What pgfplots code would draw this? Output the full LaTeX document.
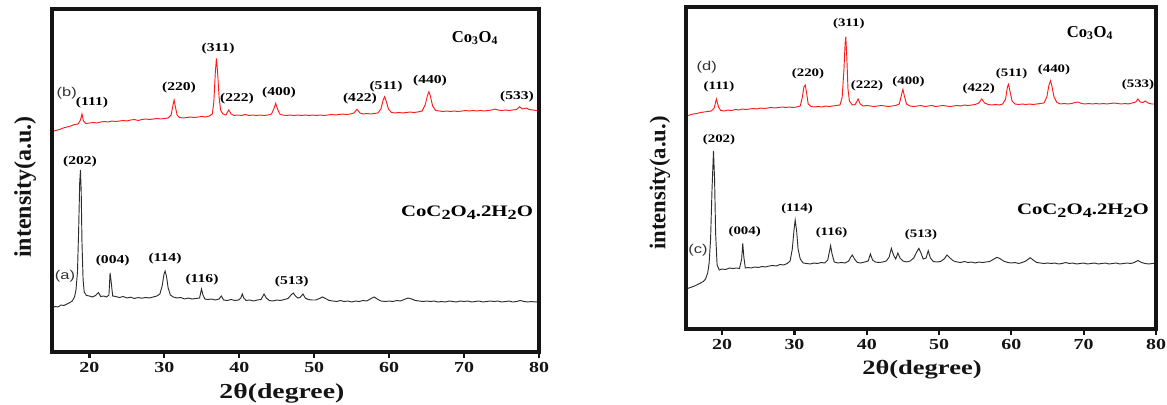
\documentclass[border=0pt]{standalone}
\usepackage{pgfplots}
\usepackage{pgfplotstable}
\pgfplotsset{compat=1.18}
\usepackage{fontspec}
\setmainfont{Liberation Serif}
\newfontfamily\wserif[FakeStretch=1.3]{Liberation Serif}
\newfontfamily\wsans[FakeStretch=1.3]{Liberation Sans}
\definecolor{xrdred}{RGB}{255,25,25}
\definecolor{xrdblack}{RGB}{45,45,45}
\definecolor{frame}{RGB}{20,20,20}
\newcommand{\pkL}[1]{{\wserif\bfseries\fontsize{9}{10}\selectfont #1}}
\newcommand{\pkR}[1]{{\wserif\bfseries\fontsize{8.6}{10}\selectfont #1}}
\newcommand{\lowsub}[1]{\raisebox{-0.45ex}{\fontsize{10.5}{10}\selectfont #1}}

% left panel, black (a) CoC2O4.2H2O
\pgfplotstableread{
x y
15.0 44
15.4 45.5
15.8 45
16.2 47
16.6 46.5
17.0 48
17.4 49.5
17.7 51
18.0 55
18.2 62
18.4 80
18.55 120
18.7 170
18.8 182
18.9 160
19.0 110
19.15 72
19.3 60
19.6 56.5
20.0 56
20.4 55
20.8 56.5
21.2 59.5
21.5 55.5
21.9 56
22.3 55
22.6 57
22.75 79
22.9 70
23.1 56
23.5 55.5
24.0 54.5
24.5 55.5
25.0 54
25.5 54.8
26.0 53.5
26.5 54.5
27.0 53.8
27.5 54.5
28.0 54
28.5 55
29.0 56
29.4 58
29.7 66
29.95 78
30.1 81
30.3 75
30.5 64
30.8 57
31.2 55
31.7 54
32.2 54.5
32.7 53
33.2 54
33.7 53
34.2 53.5
34.7 54
34.95 63
35.15 57
35.4 53
35.8 52.5
36.3 53
36.8 52
37.3 53
37.6 56
37.9 52
38.4 51.5
38.9 52.5
39.4 51.5
39.9 52
40.2 54
40.4 58
40.6 54
40.9 51.5
41.4 52
41.9 51
42.4 52
42.9 52.5
43.3 58
43.6 54
44.0 51.5
44.5 51
45.0 52
45.5 51.5
46.0 52.5
46.5 53.5
46.9 57
47.2 59
47.5 56
47.8 54
48.1 54.5
48.5 58
48.8 54
49.2 52.5
49.7 52
50.2 52
50.7 53.5
51.1 55
51.5 53.5
52.0 51.5
52.5 51
53.0 50.5
53.5 51.5
54.0 50.5
54.5 51
55.0 50
55.5 51
56.0 50.5
56.5 51.5
57.0 51
57.6 53.5
58.0 55
58.4 53
58.9 51
59.5 50.5
60.0 51
60.5 50.5
61.0 51.5
61.5 51
62.0 52.5
62.5 54
63.0 53
63.5 51.5
64.0 51
64.5 50.5
65.0 51
65.5 50.5
66.0 51
66.5 50
67.0 50.5
67.5 50
68.0 51
68.5 50.5
69.0 50
69.5 51
70.0 50.5
70.5 51
71.0 50
71.5 50.5
72.0 51
72.5 50
73.0 50.5
73.5 51
74.0 50.5
74.5 51
75.0 50
75.5 50.5
76.0 51
76.5 50
77.0 50.5
77.5 51.5
78.0 50.5
78.5 50
79.0 50.5
79.5 50
80.0 50.5
}\leftA

% left panel, red (b) Co3O4
\pgfplotstableread{
x y
15.0 220.3
15.5 221.5
16.0 222.5
16.5 224
17.0 225
17.5 226
18.0 227.5
18.5 228
18.8 232
19.0 238
19.2 231
19.5 228.5
20.0 229
20.5 229.5
21.0 229
21.5 230
22.0 230.5
22.5 230
23.0 231
23.5 230.5
24.0 231
24.5 231.5
25.0 231
25.5 232
26.0 232.5
26.5 231.5
27.0 232.5
27.5 233
28.0 232.5
28.5 233
29.0 233.5
29.5 233
30.0 233.5
30.5 234
30.9 237
31.1 245
31.3 252
31.5 244
31.7 237
32.0 234.5
32.5 234
33.0 234.5
33.5 235
34.0 234.5
34.5 235
35.0 235.5
35.5 235
36.0 236
36.4 238
36.6 250
36.8 280
36.95 293.7
37.1 280
37.3 255
37.5 242
37.8 238
38.2 237
38.6 242
38.9 238
39.3 236.5
39.8 237
40.3 236.5
40.8 237.5
41.3 236.5
41.8 237
42.3 236.5
42.8 237
43.3 236.5
43.8 237
44.3 238
44.6 243
44.85 248.7
45.1 243
45.4 238
45.8 237
46.3 236.5
46.8 237
47.3 236.5
47.8 237
48.3 236.5
48.8 237
49.3 236.5
49.8 237
50.3 236.5
50.8 237
51.3 236.5
51.8 237
52.3 237.5
52.8 237
53.3 237.5
53.8 238
54.3 237.5
54.8 238
55.3 239
55.7 242.7
56.1 239
56.5 238
57.0 238.5
57.5 238
58.0 238.5
58.5 239
58.9 243
59.2 252
59.4 255.3
59.6 251
59.9 243
60.3 239.5
60.8 239
61.3 239.5
61.8 239
62.3 239.5
62.8 240
63.3 239.5
63.8 240
64.4 241
64.8 247
65.1 256
65.3 260.3
65.5 256
65.8 246
66.2 241.5
66.7 241
67.2 240.5
67.7 241
68.2 240.5
68.7 241
69.2 240.5
69.7 241
70.2 241.5
70.7 241
71.2 241.5
71.7 241
72.2 241.5
72.7 241
73.2 241.5
73.7 242
74.1 243
74.5 242
75.0 241.5
75.5 242
76.0 241.5
76.5 242
77.0 242.5
77.4 245.3
77.8 243
78.3 244
78.7 242.5
79.2 242
79.6 241.5
80.0 241.3
}\leftB

% right panel, black (c) CoC2O4.2H2O
\pgfplotstableread{
x y
15.0 39.7
15.4 41
15.8 42
16.2 43
16.6 44.5
17.0 46
17.4 47.5
17.7 50
18.0 56
18.2 66
18.4 90
18.6 140
18.8 178
18.95 150
19.1 95
19.3 64
19.6 59
20.0 60
20.5 59.5
21.0 61
21.5 60.5
22.0 61
22.4 60.5
22.7 70
22.85 85.7
23.0 72
23.2 61
23.6 61.5
24.0 61
24.5 62
25.0 61.5
25.5 62.5
26.0 62
26.5 63
27.0 63.5
27.5 63
28.0 64.5
28.5 64
29.0 65.5
29.4 68
29.7 80
29.95 100
30.1 109
30.3 98
30.5 80
30.8 70
31.2 66
31.7 65.5
32.2 65
32.7 66
33.2 65.5
33.7 66.5
34.2 66
34.6 69
34.85 78
35.0 83.3
35.2 75
35.5 67
36.0 66
36.5 66.5
37.0 66
37.5 68
37.8 72
38.0 74
38.3 70
38.7 66.5
39.2 66
39.7 67
40.2 68
40.5 75
40.8 69
41.2 67
41.7 66.5
42.2 67
42.7 68
43.1 72
43.4 80.7
43.7 74
44.0 70
44.3 76
44.6 71
45.0 68
45.5 67
46.0 68
46.5 71
46.9 77
47.2 80.7
47.5 76
47.8 70
48.2 71
48.5 78.3
48.8 71
49.2 67.5
49.7 67
50.2 67.5
50.7 70
51.1 74
51.5 71
52.0 68
52.5 67
53.0 66.5
53.5 67.5
54.0 66.5
54.5 67
55.0 66
55.5 67
56.0 66.5
56.5 67
57.0 67.5
57.6 70
58.0 71.7
58.4 70.5
58.9 68
59.5 66.5
60.0 66
60.5 66.5
61.0 65.5
61.5 66.5
62.0 68
62.6 71.3
63.1 68.5
63.5 66.5
64.0 66
64.5 65.5
65.0 66
65.5 65.5
66.0 66
66.5 65
67.0 65.5
67.5 66.5
68.0 65.5
68.5 66
69.0 65
69.5 65.5
70.0 66
70.5 65
71.0 65.5
71.5 66
72.0 65
72.5 65.5
73.0 66
73.5 65
74.0 65.5
74.5 66
75.0 65
75.5 65.5
76.0 66
76.5 65.5
77.0 66.5
77.5 68.5
78.0 66.5
78.5 65.5
79.0 65
79.5 65.5
80.0 65.7
}\rightC

% right panel, red (d) Co3O4
\pgfplotstableread{
x y
15.0 213
15.5 214
16.0 215
16.5 215.5
17.0 216.5
17.5 217
18.0 217.5
18.5 218
18.9 221
19.2 230
19.5 222
19.8 218.5
20.3 218
20.8 219
21.3 218.5
21.8 219.5
22.3 219
22.8 220
23.3 219.5
23.8 220
24.3 220.5
24.8 220
25.3 221
25.8 220.5
26.3 221
26.8 221.5
27.3 221
27.8 221.5
28.3 222
28.8 221.5
29.3 222
29.8 221.5
30.3 222
30.8 223
31.1 232
31.3 242
31.5 244
31.7 235
31.9 225
32.3 222.5
32.8 222
33.3 222.5
33.8 222
34.3 223
34.8 222.5
35.3 223
35.8 223.5
36.3 224
36.6 232
36.85 260
37.0 285
37.1 292.3
37.25 270
37.4 240
37.6 228
38.0 224
38.4 224.5
38.8 230
39.1 225
39.5 223
40.0 223.5
40.5 223
41.0 222.5
41.5 223
42.0 223.5
42.5 223
43.0 222.5
43.5 223
44.0 223.5
44.5 225
44.8 234
45.0 239.7
45.2 233
45.5 225
46.0 223
46.5 222.5
47.0 223
47.5 223.5
48.0 222.5
48.5 223
49.0 223.5
49.5 222.5
50.0 223
50.5 223.5
51.0 223
51.5 222.5
52.0 223
52.5 223.5
53.0 223
53.5 224
54.0 223.5
54.5 224
55.0 224.5
55.5 226
55.9 230
56.3 226
56.8 224.5
57.3 224
57.8 224.5
58.3 224
58.8 225
59.2 230
59.45 242
59.6 244.7
59.8 238
60.1 228
60.5 225
61.0 224.5
61.5 225
62.0 224.5
62.5 225
63.0 224.5
63.5 225
64.0 225.5
64.5 226
64.9 232
65.2 244
65.4 248.3
65.6 243
65.9 232
66.3 226.5
66.8 225
67.3 225.5
67.8 225
68.3 225.5
68.8 226.5
69.2 227
69.7 225.5
70.2 225
70.7 225.5
71.2 225
71.7 225.5
72.2 225
72.7 225.5
73.2 225
73.7 225.5
74.2 226
74.7 225.5
75.2 225
75.7 225.5
76.2 225
76.7 226
77.2 227
77.5 230
77.8 227
78.2 226.5
78.5 228
78.9 226
79.4 225
80.0 225
}\rightD

\pgfplotsset{
  xrd/.style={
    scale only axis,
    anchor=south west,
    xmin=15, xmax=80, ymin=0,
    clip=false,
    xtick={20,30,40,50,60,70,80},
    ytick=\empty,
    xtick pos=left,
    tick align=outside,
    major tick length=4.5pt,
    /pgf/number format/assume math mode=true,
    xticklabel style={font=\wserif\bfseries\fontsize{11.5}{12}\selectfont, text=frame},
    every axis plot/.append style={line width=0.7pt},
  }
}

\begin{document}
\begin{tikzpicture}
\useasboundingbox (0,0) rectangle (875.25pt,303pt);

% ---------------- left panel ----------------
\begin{axis}[xrd,
  at={(39pt,39pt)},
  width=365.25pt, height=257.25pt,
  ymax=343,
  axis line style={line width=2.4pt, draw=frame},
  major tick style={line width=1.6pt, draw=frame},
  xlabel={2θ(degree)},
  ylabel={intensity(a.u.)},
  xlabel style={at={(rel axis cs:0.472,-0.1195)}, anchor=center,
     font=\wserif\bfseries\fontsize{16}{18}\selectfont, text=frame},
  ylabel style={at={(rel axis cs:-0.0554,0.481)}, anchor=center,
     font=\bfseries\fontsize{18}{20}\selectfont, text=frame},
]
\addplot[xrdblack] table[x=x,y=y] {\leftA};
\addplot[xrdred] table[x=x,y=y] {\leftB};
\draw[line width=2.4pt, frame] (rel axis cs:0,0) -- (rel axis cs:1,0) -- (rel axis cs:1,1) -- (rel axis cs:0,1) -- cycle;

\node[font=\wsans\fontsize{9.5}{10}\selectfont, text=black!80] at (axis cs:16.96,258.7) {(b)};
\node at (axis cs:20.34,249) {\pkL{(111)}};
\node at (axis cs:31.95,264) {\pkL{(220)}};
\node at (axis cs:37.16,303) {\pkL{(311)}};
\node at (axis cs:39.69,253) {\pkL{(222)}};
\node at (axis cs:45.30,259.3) {\pkL{(400)}};
\node at (axis cs:56.1,253) {\pkL{(422)}};
\node at (axis cs:59.58,265) {\pkL{(511)}};
\node at (axis cs:65.45,271) {\pkL{(440)}};
\node at (axis cs:77.06,255.3) {\pkL{(533)}};
\node[font=\bfseries\fontsize{12.5}{13}\selectfont] at (axis cs:71.46,314) {Co\textsubscript{3}O\textsubscript{4}};

\node at (axis cs:18.74,190.3) {\pkL{(202)}};
\node[font=\wsans\fontsize{9.5}{10}\selectfont, text=black!80] at (axis cs:16.74,75.3) {(a)};
\node at (axis cs:23.1,91.3) {\pkL{(004)}};
\node at (axis cs:30.08,93) {\pkL{(114)}};
\node at (axis cs:35.02,72) {\pkL{(116)}};
\node at (axis cs:47.0,70) {\pkL{(513)}};
\node[font=\wserif\bfseries\fontsize{12}{13}\selectfont] at (axis cs:70.39,139) {CoC\lowsub{2}O\lowsub{4}.2H\lowsub{2}O};
\end{axis}

% ---------------- right panel ----------------
\begin{axis}[xrd,
  at={(514.5pt,56.25pt)},
  width=352.5pt, height=241.5pt,
  ymax=322,
  axis line style={line width=2.6pt, draw=frame},
  major tick style={line width=1.6pt, draw=frame},
  xlabel={2θ(degree)},
  ylabel={intensity(a.u.)},
  xlabel style={at={(rel axis cs:0.502,-0.127)}, anchor=center,
     font=\wserif\bfseries\fontsize{15.3}{17}\selectfont, text=frame},
  ylabel style={at={(rel axis cs:-0.0553,0.453)}, anchor=center,
     font=\bfseries\fontsize{17}{19}\selectfont, text=frame},
]
\addplot[xrdblack] table[x=x,y=y] {\rightC};
\addplot[xrdred] table[x=x,y=y] {\rightD};
\draw[line width=2.6pt, frame] (rel axis cs:0,0) -- (rel axis cs:1,0) -- (rel axis cs:1,1) -- (rel axis cs:0,1) -- cycle;

\node[font=\wsans\fontsize{9.5}{10}\selectfont, text=black!80] at (axis cs:17.86,261.3) {(d)};
\node at (axis cs:19.56,242.3) {\pkR{(111)}};
\node at (axis cs:31.87,255) {\pkR{(220)}};
\node at (axis cs:37.51,305) {\pkR{(311)}};
\node at (axis cs:40.03,243) {\pkR{(222)}};
\node at (axis cs:45.77,247.3) {\pkR{(400)}};
\node at (axis cs:55.48,240.7) {\pkR{(422)}};
\node at (axis cs:60.03,255.7) {\pkR{(511)}};
\node at (axis cs:65.89,259.7) {\pkR{(440)}};
\node at (axis cs:77.51,244.7) {\pkR{(533)}};
\node[font=\bfseries\fontsize{12.5}{13}\selectfont] at (axis cs:70.87,295.7) {Co\textsubscript{3}O\textsubscript{4}};

\node at (axis cs:19.56,189) {\pkR{(202)}};
\node[font=\wsans\fontsize{9.5}{10}\selectfont, text=black!80] at (axis cs:16.66,78.3) {(c)};
\node at (axis cs:23.12,97.3) {\pkR{(004)}};
\node at (axis cs:30.35,120.7) {\pkR{(114)}};
\node at (axis cs:35.12,96.7) {\pkR{(116)}};
\node at (axis cs:47.5,94) {\pkR{(513)}};
\node[font=\wserif\bfseries\fontsize{12}{13}\selectfont] at (axis cs:69.9,118.3) {CoC\lowsub{2}O\lowsub{4}.2H\lowsub{2}O};
\end{axis}
\end{tikzpicture}
\end{document}
